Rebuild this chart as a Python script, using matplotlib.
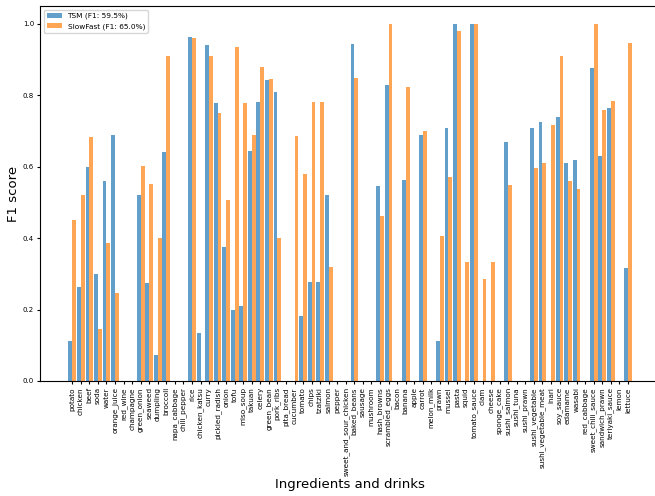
import numpy as np
import matplotlib
matplotlib.use('Agg')
import matplotlib.pyplot as plt

categories = [
    'potato', 'chicken', 'beef', 'soda', 'water', 'orange_juice', 'red_wine',
    'champagne', 'green_onion', 'seaweed', 'dumpling', 'broccoli',
    'napa_cabbage', 'chili_pepper', 'rice', 'chicken_katsu', 'curry',
    'pickled_radish', 'onion', 'tofu', 'miso_soup', 'takuan', 'celery',
    'green_bean', 'pork_ribs', 'pita_bread', 'cucumber', 'tomato', 'chips',
    'tzatziki', 'salmon', 'pepper', 'sweet_and_sour_chicken', 'baked_beans',
    'sausage', 'mushroom', 'hash_browns', 'scrambled_eggs', 'bacon', 'banana',
    'apple', 'carrot', 'melon_milk', 'prawn', 'mussel', 'pasta', 'squid',
    'tomato_sauce', 'clam', 'cheese', 'sponge_cake', 'sushi_salmon',
    'sushi_tuna', 'sushi_prawn', 'sushi_vegetable', 'sushi_vegetable_meat',
    'inari', 'soy_sauce', 'edamame', 'wasabi', 'red_cabbage',
    'sweet_chili_sauce', 'sandwich_prawn', 'teriyaki_sauce', 'lemon', 'lettuce',
]

tsm_f1 = [
    0.111, 0.263, 0.600, 0.300, 0.561, 0.690, 0.0,
    0.0, 0.521, 0.274, 0.072, 0.642,
    0.0, 0.0, 0.963, 0.134, 0.940,
    0.777, 0.375, 0.198, 0.209, 0.645, 0.780,
    0.842, 0.808, 0.0, 0.0, 0.181, 0.277,
    0.277, 0.521, 0.0, 0.0, 0.943,
    0.0, 0.0, 0.547, 0.828, 0.0, 0.563,
    0.0, 0.688, 0.0, 0.111, 0.707, 1.0, 0.0,
    1.0, 0.0, 0.0, 0.0, 0.668,
    0.0, 0.0, 0.707, 0.724,
    0.0, 0.738, 0.611, 0.620, 0.0,
    0.875, 0.631, 0.763, 0.0, 0.316,
]

slowfast_f1 = [
    0.451, 0.521, 0.683, 0.145, 0.387, 0.246, 0.0,
    0.0, 0.603, 0.552, 0.401, 0.909,
    0.0, 0.0, 0.960, 0.0, 0.909,
    0.749, 0.507, 0.934, 0.777, 0.690, 0.878,
    0.845, 0.401, 0.0, 0.685, 0.580, 0.780,
    0.780, 0.319, 0.0, 0.0, 0.847,
    0.0, 0.0, 0.462, 1.0, 0.0, 0.822,
    0.0, 0.701, 0.0, 0.406, 0.572, 0.979, 0.333,
    1.0, 0.285, 0.333, 0.0, 0.550,
    0.0, 0.0, 0.597, 0.611,
    0.718, 0.909, 0.561, 0.538, 0.0,
    1.0, 0.760, 0.783, 0.0, 0.945,
]

tsm_label = 'TSM (F1: 59.5%)'
slowfast_label = 'SlowFast (F1: 65.0%)'

x = np.arange(len(categories))
width = 0.45

fig = plt.figure(figsize=(6.55, 4.96), dpi=100)
# axes runs slightly past the right edge, so the right spine is cut off
ax = fig.add_axes([0.0615, 0.232, 0.946, 0.756])

ax.bar(x - width / 2, tsm_f1, width, color='tab:blue', alpha=0.7, label=tsm_label)
ax.bar(x + width / 2, slowfast_f1, width, color='tab:orange', alpha=0.7, label=slowfast_label)

ax.set_xticks(x)
ax.set_xticklabels(categories, rotation=90, fontsize=5.2)
ax.set_yticks([0.0, 0.2, 0.4, 0.6, 0.8, 1.0])
ax.tick_params(axis='y', labelsize=5)
ax.tick_params(axis='both', length=2.5, width=0.8, pad=2)
ax.set_ylabel('F1 score', fontsize=9.5, labelpad=2)
ax.set_xlabel('Ingredients and drinks', fontsize=9.5, labelpad=1)
ax.legend(loc='upper left', fontsize=5.3)

plt.savefig('out.png', dpi=100)
plt.close()
